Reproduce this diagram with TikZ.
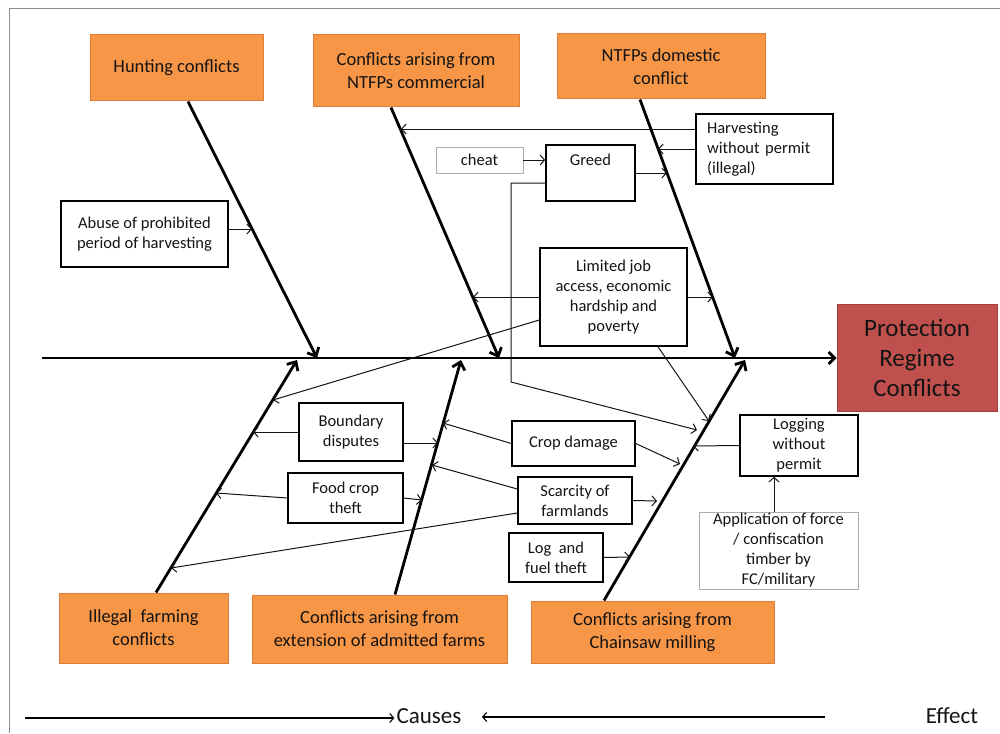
\documentclass[tikz,border=0pt]{standalone}
\usepackage{fontspec}
\setmainfont{Carlito}
\usetikzlibrary{arrows.meta,calc}
\definecolor{cause}{HTML}{F79646}
\definecolor{causeline}{HTML}{E07E36}
\definecolor{effect}{HTML}{C0504D}
\definecolor{effectline}{HTML}{A3403D}
\definecolor{framecol}{HTML}{8C8C8C}
\definecolor{ink}{HTML}{141414}

\tikzset{
  cat/.style={draw=causeline, fill=cause, line width=1pt, inner sep=0pt, align=center,
    font=\fontsize{18.5}{23}\selectfont, text=ink},
  factor/.style={draw=black, line width=1.5pt, fill=white, inner sep=0pt, align=center,
    font=\fontsize{16.5}{20}\selectfont, text=ink},
  softfactor/.style={factor, draw=gray!65, line width=0.8pt},
  bone/.style={line width=2.8pt, draw=black, -{Straight Barb[length=7pt,width=13pt]}},
  link/.style={line width=1pt, draw=ink, -{Straight Barb[length=4.5pt,width=10pt]}},
  legendarrow/.style={line width=1.1pt, draw=black, -{Straight Barb[length=4pt,width=9pt]}},
}

\begin{document}
\begin{tikzpicture}[x=1pt,y=-1pt]
\useasboundingbox (0,0) rectangle (1000,733);

% outer frame
\draw[framecol, line width=0.8pt] (9,733) -- (9,8) -- (1000,8);

% effect
\node[draw=effectline, fill=effect, line width=1pt, inner sep=0pt, align=center,
  font=\fontsize{25}{30}\selectfont, text=ink, minimum width=160pt, minimum height=107pt]
  (prot) at (917,358) {Protection\\Regime\\Conflicts};

% main categories
\node[cat, minimum width=173pt, minimum height=66pt] (hunt) at (176.5,68) {Hunting conflicts};
\node[cat, minimum width=206pt, minimum height=72pt] (ncom) at (416,71) {Conflicts arising from\\NTFPs commercial};
\node[cat, minimum width=208pt, minimum height=65pt] (ndom) at (661,66.5) {NTFPs domestic\\conflict};
\node[cat, minimum width=169pt, minimum height=70pt] (illeg) at (143.5,628) {Illegal\ \ farming\\conflicts};
\node[cat, minimum width=255pt, minimum height=68pt] (ext) at (379.5,629) {Conflicts arising from\\extension of admitted farms};
\node[cat, minimum width=243pt, minimum height=62pt] (chain) at (652.5,632) {Conflicts arising from\\Chainsaw milling};

% contributing factors
\node[factor, minimum width=167pt, minimum height=66pt] (abuse) at (144.5,234) {Abuse of prohibited\\period of harvesting};
\node[factor, minimum width=137pt, minimum height=70pt, text width=115pt, inner xsep=11pt, align=left]
  (harv) at (764.5,149) {Harvesting\\without permit\\(illegal)};
\node[softfactor, minimum width=87pt, minimum height=26pt] (cheat) at (479.5,160) {cheat};
\node[factor, minimum width=89pt, minimum height=56pt] (greed) at (590.5,173) {Greed\\\strut};
\node[factor, minimum width=147pt, minimum height=98pt] (limited) at (613.5,297)
  {Limited job\\access, economic\\hardship and\\poverty};
\node[factor, minimum width=104pt, minimum height=58pt] (bound) at (351,432) {Boundary\\disputes};
\node[factor, minimum width=115pt, minimum height=50pt] (food) at (345.5,498) {Food crop\\theft};
\node[factor, minimum width=123pt, minimum height=45pt] (crop) at (573.5,443.5) {Crop damage};
\node[factor, minimum width=114pt, minimum height=47pt] (scar) at (575,500.5) {Scarcity of\\farmlands};
\node[factor, minimum width=94pt, minimum height=49pt] (logf) at (556,557.5) {Log\ \ and\\fuel theft};
\node[factor, minimum width=118pt, minimum height=61pt] (logging) at (799,445.5) {Logging\\without\\permit};
\node[softfactor, minimum width=159pt, minimum height=77pt] (appl) at (778.5,550.5)
  {Application of force\\/ confiscation\\timber by\\FC/military};

% spine
\coordinate (spS) at (42,358);
\draw[line width=2.8pt, -{Straight Barb[length=6pt,width=12pt]}] (spS) -- (prot.west);

% bones
\coordinate (b1s) at ([xshift=11.5pt]hunt.south);
\coordinate (b1e) at (317,358);
\coordinate (b2s) at ([xshift=-25pt]ncom.south);
\coordinate (b2e) at (499,358);
\coordinate (b3s) at ([xshift=-21pt]ndom.south);
\coordinate (b3e) at (735,358);
\coordinate (b4s) at ([xshift=12.5pt]illeg.north);
\coordinate (b4e) at (297,360);
\coordinate (b5s) at ([xshift=15.5pt]ext.north);
\coordinate (b5e) at (461,360);
\coordinate (b6s) at ([xshift=-48.5pt]chain.north);
\coordinate (b6e) at (745,360);
\foreach \i in {1,...,6} \draw[bone] (b\i s) -- (b\i e);

% points where the factors meet the bones
\coordinate (t1) at (252,229);
\coordinate (t2) at (401,129);
\coordinate (t3) at (658,149);
\coordinate (t5) at (667,173);
\coordinate (gr1) at (511,382);
\coordinate (t6) at (697,430);
\coordinate (t7) at (473,297);
\coordinate (t8) at (713,297);
\coordinate (t9) at (273,400);
\coordinate (t10) at (709,421);
\coordinate (t11) at (253,432);
\coordinate (t12) at (438,443);
\coordinate (t13) at (216,493);
\coordinate (t14) at (422,500);
\coordinate (t15) at (443,423);
\coordinate (t16) at (680,464);
\coordinate (t17) at (432,465);
\coordinate (t18) at (171,568);
\coordinate (t19) at (657,501);
\coordinate (t20) at (630,557);
\coordinate (t21) at (693,446);

% factor links
\draw[link] ([yshift=5pt]abuse.east) -- (t1);
\draw[link] ([yshift=20pt]harv.west) -- (t2);
\draw[link] (harv.west) -- (t3);
\draw[link] (cheat.east) -- (cheat.east -| greed.west);
\draw[link] (greed.east) -- (t5);
\draw[link] ([yshift=-10pt]greed.west) -| (gr1) -- (t6);
\draw[link] (limited.west) -- (t7);
\draw[link] (limited.east) -- (t8);
\draw[link] ([yshift=-23pt]limited.west) -- (t9);
\draw[link] ([xshift=44.5pt]limited.south) -- (t10);
\draw[link] (bound.west) -- (t11);
\draw[link] ([yshift=-11pt]bound.east) -- (t12);
\draw[link] (food.west) -- (t13);
\draw[link] (food.east) -- (t14);
\draw[link] (crop.west) -- (t15);
\draw[link] (crop.east) -- (t16);
\draw[link] ([yshift=11.5pt]scar.west) -- (t17);
\draw[link] ([yshift=-12.5pt]scar.west) -- (t18);
\draw[link] (scar.east) -- (t19);
\draw[link] (logf.east) -- (t20);
\draw[link] (logging.west) -- (t21);
\coordinate (aplTop) at ([xshift=-4.5pt]appl.north);
\draw[link] (aplTop) -- (aplTop |- logging.south);

% legend
\node[font=\fontsize{23}{27}\selectfont, inner sep=2pt, text=ink] (causes) at (429,716) {Causes};
\node[font=\fontsize{23}{27}\selectfont, inner sep=2pt, text=ink] (effectlbl) at (952,716) {Effect};
\coordinate (legA) at (25,718);
\coordinate (legR) at (825,717);
\coordinate (legL) at (482,717);
\draw[legendarrow] (legA) -- (legA -| causes.west);
\draw[legendarrow] (legR) -- (legL);
\end{tikzpicture}
\end{document}
